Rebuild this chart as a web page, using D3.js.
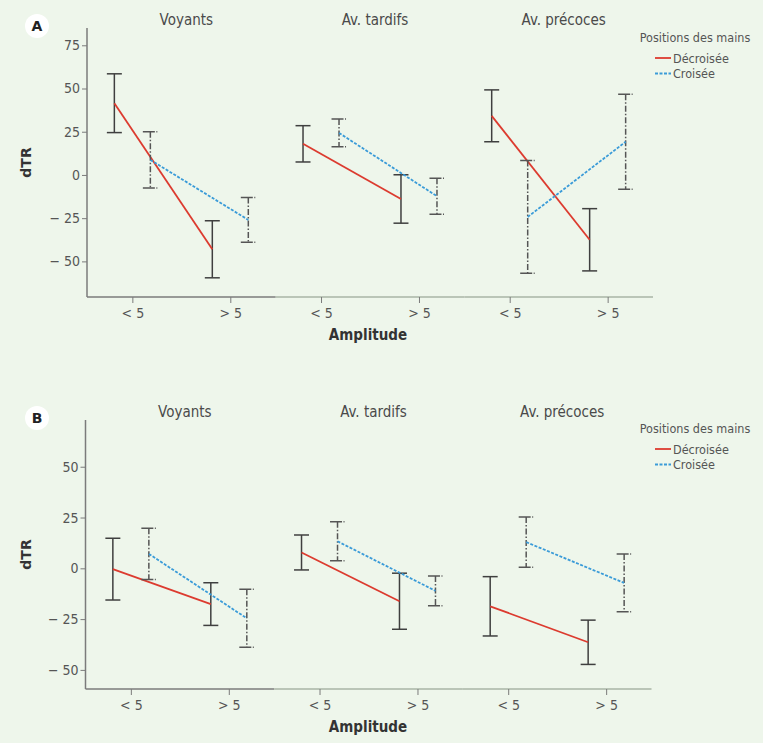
<!DOCTYPE html>
<html><head><meta charset="utf-8">
<script src="https://cdn.jsdelivr.net/npm/d3@7"></script>
<style>
body{margin:0;background:#fff;}
svg{display:block;}
text{font-family:'Liberation Sans Narrow','DejaVu Sans Condensed','Roboto',sans-serif;}
</style></head><body>
<svg id="c" width="763" height="743"></svg>
<script>
const groups = ["Voyants", "Av. tardifs", "Av. précoces"];
const amplitudes = ["< 5", "> 5"];
const series = ["Décroisée", "Croisée"];
const panelLabels = ["A", "B"];
const yTicksA = [-50, -25, 0, 25, 50, 75];
const yTicksB = [-50, -25, 0, 25, 50];

// Panel A : means [group][amplitude], errors (half-width)
const meanA_dec = [[41.5, -43.0], [18.0, -13.9], [34.2, -37.5]];
const errA_dec  = [[17.0, 16.5], [10.5, 14.0], [15.0, 18.0]];
const meanA_cro = [[8.7, -26.0], [24.3, -12.3], [-24.3, 19.2]];
const errA_cro  = [[16.3, 13.0], [8.0, 10.4], [32.6, 27.5]];
// Panel B
const meanB_dec = [[-0.4, -17.6], [7.8, -16.2], [-18.7, -36.4]];
const errB_dec  = [[15.2, 10.5], [8.6, 13.8], [14.6, 10.9]];
const meanB_cro = [[7.1, -24.6], [13.3, -11.1], [12.9, -7.2]];
const errB_cro  = [[12.6, 14.3], [9.6, 7.3], [12.4, 14.2]];

const svg = d3.select("#c");
svg.append("rect").attr("width",763).attr("height",743).attr("fill","#eef6eb");

const colors = {"Décroisée":"#dc3b2f","Croisée":"#3a9bd8"};
const dashes = {"Décroisée":null,"Croisée":"3,1.5"};
const ebDash = {"Décroisée":null,"Croisée":"6,2,1.5,2"};
const dodge = {"Décroisée":-18,"Croisée":18};
const fmtY = d => d < 0 ? "\u2212 " + Math.abs(d) : String(d);

const panels = [
  {label:"A", top:28, bottom:297, left:87, domain:[-70.6,85], ticks:yTicksA,
   data:{"Décroisée":[meanA_dec,errA_dec],"Croisée":[meanA_cro,errA_cro]}},
  {label:"B", top:420, bottom:689, left:85.5, domain:[-59.4,73], ticks:yTicksB,
   data:{"Décroisée":[meanB_dec,errB_dec],"Croisée":[meanB_cro,errB_cro]}}
];

panels.forEach((p,pi) => {
  const g = svg.append("g");
  const y = d3.scaleLinear().domain(p.domain).range([p.bottom, p.top]);
  const xg = d3.scaleBand().domain(groups).range([p.left, p.left + 566]).padding(0);
  const xa = d3.scalePoint().domain(amplitudes).range([0, xg.bandwidth()]).padding(0.463);

  // panel letter badge
  g.append("circle").attr("cx",37).attr("cy",p.top-2).attr("r",12).attr("fill","#fff");
  g.append("text").attr("x",37).attr("y",p.top+3).attr("text-anchor","middle")
    .attr("font-size",14).attr("font-weight","bold").attr("fill","#222")
    .style("font-family","'DejaVu Sans',sans-serif").text(p.label);

  // y axis
  const yAx = g.append("g").attr("transform",`translate(${p.left},0)`)
    .call(d3.axisLeft(y).tickValues(p.ticks).tickFormat(fmtY).tickSize(5).tickPadding(2));
  yAx.select(".domain").attr("d",`M0,${p.top}V${p.bottom}`).attr("stroke","#7b7b7b").attr("stroke-width",1.5);
  yAx.selectAll(".tick line").attr("stroke","#7b7b7b");
  yAx.selectAll(".tick text").attr("font-size",14).attr("fill","#555");

  g.append("text").attr("transform",`translate(31,${(p.top+p.bottom)/2}) rotate(-90)`)
    .attr("text-anchor","middle").attr("font-size",14).attr("font-weight","bold")
    .attr("fill","#333").style("font-family","'DejaVu Sans',sans-serif").text("dTR");

  groups.forEach((grp,gi) => {
    const x0 = xg(grp);
    const ax = g.append("g").attr("transform",`translate(${x0},${p.bottom})`)
      .call(d3.axisBottom(xa).tickSize(6).tickPadding(5));
    const axColor = gi===0 ? "#7b7b7b" : "#a9b4a6";
    ax.select(".domain").attr("d",`M0,0H${xg.bandwidth()}`).attr("stroke",axColor).attr("stroke-width",1.5);
    ax.selectAll(".tick line").attr("stroke","#7b7b7b");
    ax.selectAll(".tick text").attr("font-size",14).attr("fill","#555");

    g.append("text").attr("x",x0 + xg.bandwidth()/2 + 5).attr("y",p.top-3)
      .attr("text-anchor","middle").attr("font-size",15).attr("fill","#4a4a4a").text(grp);

    series.forEach(s => {
      const [means, errs] = p.data[s];
      const pts = amplitudes.map((a,ai) => ({x:x0 + xa(a) + dodge[s], m:means[gi][ai], e:errs[gi][ai]}));
      // error bars
      pts.forEach(d => {
        const eb = g.append("g").attr("stroke", s==="Décroisée" ? "#3f3f3f" : "#555").attr("stroke-width",1.5).attr("fill","none");
        eb.append("line").attr("x1",d.x).attr("x2",d.x).attr("y1",y(d.m+d.e)).attr("y2",y(d.m-d.e))
          .attr("stroke-dasharray",ebDash[s]);
        [d.m+d.e, d.m-d.e].forEach(v => eb.append("line").attr("x1",d.x-7.5).attr("x2",d.x+7.5)
          .attr("y1",y(v)).attr("y2",y(v)).attr("stroke-dasharray", s==="Croisée" ? "12,1.5,1,2" : null));
      });
      g.append("path").datum(pts)
        .attr("d", d3.line().x(d=>d.x).y(d=>y(d.m)))
        .attr("fill","none").attr("stroke",colors[s]).attr("stroke-width",1.8)
        .attr("stroke-dasharray",dashes[s]);
    });
  });

  g.append("text").attr("x",368).attr("y",p.bottom+43).attr("text-anchor","middle")
    .attr("font-size",15).attr("font-weight","bold").attr("fill","#333").text("Amplitude");

  // legend
  const ly = pi===0 ? 38 : 429;
  const lg = g.append("g");
  lg.append("text").attr("x",695).attr("y",ly+4).attr("text-anchor","middle")
    .attr("font-size",12.5).attr("fill","#555").text("Positions des mains");
  series.forEach((s,si) => {
    const yy = ly + 20 + si*15.5;
    lg.append("line").attr("x1",655).attr("x2",671).attr("y1",yy).attr("y2",yy)
      .attr("stroke",colors[s]).attr("stroke-width",1.8).attr("stroke-dasharray",dashes[s]);
    lg.append("text").attr("x",673).attr("y",yy+4.5).attr("font-size",12.5).attr("fill","#555").text(s);
  });
});
</script></body></html>
